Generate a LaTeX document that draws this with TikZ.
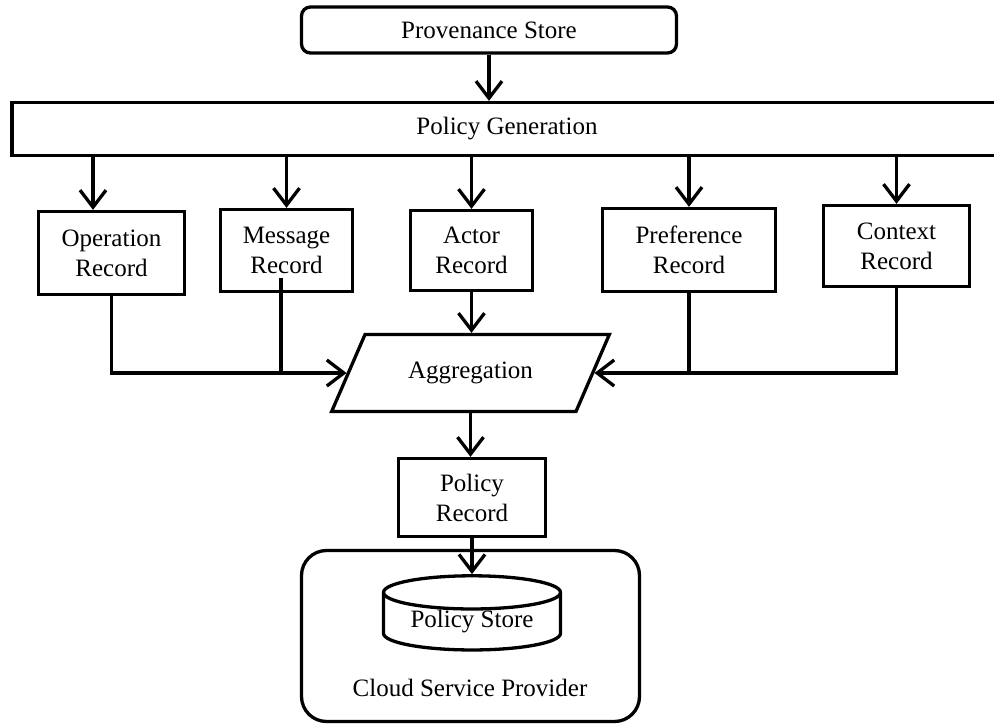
\documentclass[tikz,border=0pt]{standalone}
\usepackage{fontspec}
\setmainfont{Liberation Serif}
\usetikzlibrary{shapes.geometric,arrows.meta}

\begin{document}
\begin{tikzpicture}[x=1pt,y=-1pt,
  every node/.style={font=\fontsize{25}{30}\selectfont},
  box/.style={draw,line width=3.3pt,align=center,inner sep=0pt},
  ln/.style={line width=3.3pt},
  arr/.style={ln,-{Straight Barb[length=17pt,width=26pt]}}]
\useasboundingbox (0,0) rectangle (994,725);

\node[box,rounded corners=9pt,minimum width=375pt,minimum height=46pt] (prov) at (489,30) {Provenance Store};
\node[box,minimum width=990pt,minimum height=53pt] (gen) at (507,129) {Policy Generation};

\foreach \nm/\x/\y/\w/\h/\t in
    {op/111.5/253/146/83/Operation\\Record,
     msg/286.5/250.5/132/82/Message\\Record,
     act/471.5/250.5/122/80/Actor\\Record,
     pref/689/250/173/83/Preference\\Record,
     ctx/896.5/246/146/81/Context\\Record}
  \node[box,minimum width=\w pt,minimum height=\h pt] (\nm) at (\x,\y) {\t};

\node[box,trapezium,trapezium left angle=48,trapezium right angle=132,trapezium stretches=true,
      minimum width=278pt,minimum height=77pt] (agg) at (470.5,373) {Aggregation};
\node[box,minimum width=147pt,minimum height=78pt] (rec) at (472,497.5) {Policy\\Record};
\node[box,rounded corners=25pt,minimum width=338pt,minimum height=171pt] (csp) at (470.5,636) {};
\node[box,cylinder,shape border rotate=90,aspect=0.27,minimum width=177pt,minimum height=71pt] (store) at (472,622) {Policy Store};
\node (csplbl) at (470,688) {Cloud Service Provider};

% top
\draw[arr] (prov) -- (prov |- gen.north);
\coordinate (opin) at (93,0);
\draw[arr] (gen.south -| opin) -- (op.north -| opin);
\foreach \nm in {msg,act,pref,ctx}
  \draw[arr] (gen.south -| \nm.north) -- (\nm.north);

% into aggregation
\draw[arr] (op.south) |- (agg.west);
\coordinate (msgout) at (281,278);
\draw[ln] (msgout) -- (msgout |- agg.west);
\draw[arr] (ctx.south) |- (agg.east);
\draw[ln] (pref.south) -- (pref.south |- agg.east);
\draw[arr] (act.south) -- (act.south |- agg.north);

% bottom
\draw[arr] (agg.south) -- (agg.south |- rec.north);
\draw[arr] (rec.south) -- (rec.south |- store.north);
\end{tikzpicture}
\end{document}
